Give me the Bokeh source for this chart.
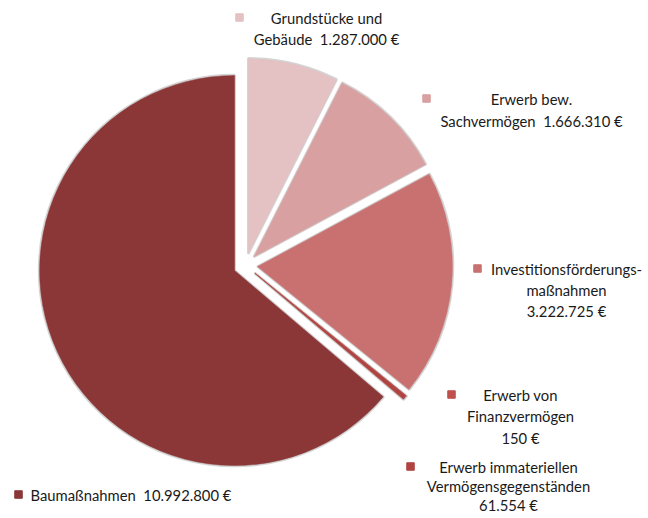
import math
from bokeh.plotting import figure
from bokeh.models import Range1d
from bokeh.core.properties import value
from bokeh.embed import file_html
from bokeh.resources import INLINE

# ---- data ----
categories = ["Grundstücke und Gebäude", "Erwerb bew. Sachvermögen",
              "Investitionsförderungsmaßnahmen", "Erwerb von Finanzvermögen",
              "Erwerb immateriellen Vermögensgegenständen", "Baumaßnahmen"]
values = [1287000, 1666310, 3222725, 150, 61554, 10992800]
colors = ["#E4C1C3", "#D8A0A1", "#C87170", "#C0504D", "#B04442", "#8B3737"]
label_text = [["Grundstücke und", "Gebäude\u00a0 {v}"],
              ["Erwerb bew.", "Sachvermögen\u00a0 {v}"],
              ["Investitionsförderungs-", "maßnahmen", "{v}"],
              ["Erwerb von", "Finanzvermögen", "{v}"],
              ["Erwerb immateriellen", "Vermögensgegenständen", "{v}"],
              ["Baumaßnahmen\u00a0 {v}"]]

def fmt(v):
    return f"{v:,}".replace(",", ".") + "\u00a0€"

# ---- layout (pixel coordinates of the picture, y downward) ----
CX, CY, R, EXPLODE = 245, 265, 195, 12
# marker x, marker y, text x, first line y, align, line height
label_pos = [(239, 17, 326, 17, "center", 21),
             (426, 98, 531, 98, "center", 22),
             (477, 268, 566, 268, "center", 21),
             (451, 394, 520, 394, "center", 21.5),
             (410, 466, 508, 466, "center", 19),
             (18, 494, 30, 494, "left", 21)]

W, H = 644, 516
p = figure(width=W, height=H, output_backend="svg", toolbar_location=None,
           x_range=Range1d(0, W), y_range=Range1d(-H, 0), min_border=0)
p.axis.visible = False
p.grid.visible = False
p.outline_line_color = None
p.background_fill_color = "white"
p.border_fill_color = "white"

total = float(sum(values))
cum = 0.0
xs, ys, starts, ends = [], [], [], []
for v in values:
    a0 = math.pi / 2 - 2 * math.pi * cum / total
    cum += v
    a1 = math.pi / 2 - 2 * math.pi * cum / total
    mid = (a0 + a1) / 2
    xs.append(CX + EXPLODE * math.cos(mid))
    ys.append(-CY + EXPLODE * math.sin(mid))
    starts.append(a1)
    ends.append(a0)

# soft shadow outline
p.wedge(x=xs, y=ys, radius=R + 0.5, start_angle=starts, end_angle=ends,
        fill_color=None, line_color="#c9c9c9", line_width=2.5, line_alpha=0.8)
p.wedge(x=xs, y=ys, radius=R, start_angle=starts, end_angle=ends,
        fill_color=colors, line_color=colors, line_width=0.5)

# labels
for i, (mx, my, tx, ty, align, lh) in enumerate(label_pos):
    p.scatter(x=[mx], y=[-my], marker="square", size=7.5,
              fill_color=colors[i], line_color=colors[i])
    for j, line in enumerate(label_text[i]):
        p.text(x=[tx], y=[-(ty + j * lh)], text=[line.format(v=fmt(values[i]))],
               text_font=value("Lato"), text_font_size="14.8px",
               text_color="#1a1a1a", text_align=align, text_baseline="middle")

open("out.html", "w").write(file_html(p, INLINE))
